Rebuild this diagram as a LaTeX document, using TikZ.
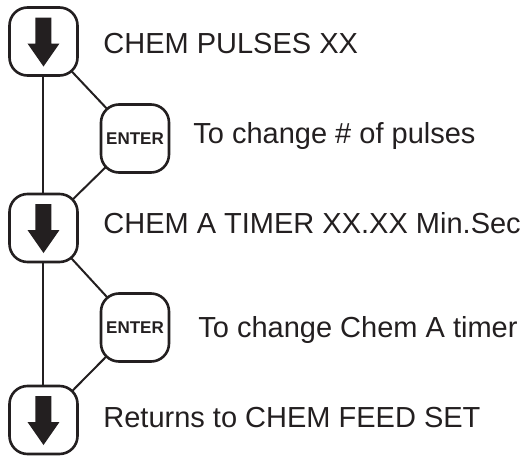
\documentclass[tikz,border=0pt]{standalone}
\usepackage{fontspec}
\setmainfont{Liberation Sans}
\usepackage{tikz}
\usetikzlibrary{
  backgrounds
}
\definecolor{PanelInk}{HTML}{231F20}

\begin{document}
\begin{tikzpicture}[
    x=0.5pt, y=-0.5pt,
    every node/.style={text=PanelInk},
    keybox/.style={draw=PanelInk,line width=1.3pt,rounded corners=9pt,
      fill=white,minimum size=34pt,inner sep=0pt},
    flowline/.style={draw=PanelInk,line width=1pt},
    menutext/.style={anchor=base west,inner sep=0pt,
      font=\fontsize{14.5}{17}\selectfont},
    entertext/.style={font=\fontsize{8.5}{10}\selectfont\bfseries}
  ]
    \useasboundingbox (0,0) rectangle (527,456);
    % scroll keys down the left side
    \node[keybox] (down1) at (43.5,41.5) {};
    \node[keybox] (down2) at (43.5,228) {};
    \node[keybox] (down3) at (43.5,420) {};
    % enter keys
    \node[keybox,entertext] (enter1) at (135,138.5) {ENTER};
    \node[keybox,entertext] (enter2) at (135,327.5) {ENTER};
    % arrow glyph in each scroll key
    \foreach \k in {down1,down2,down3}{
      \fill[PanelInk,shift={(\k.center)}]
        (-8,-24) -- (8,-24) -- (8,2) -- (16,2) -- (0,25) -- (-16,2) -- (-8,2) -- cycle;
    }
    % connectors behind the keys
    \begin{scope}[on background layer]
      \draw[flowline] (down1.center) -- (down2.center) -- (down3.center);
      \draw[flowline] (down1.center) -- (enter1.center) -- (down2.center);
      \draw[flowline] (down2.center) -- (enter2.center) -- (down3.center);
    \end{scope}
    % menu texts
    \node[menutext] (pulses) at (103,53) {CHEM PULSES XX};
    \node[menutext] (pulsesedit) at (193,143) {To change \# of pulses};
    \node[menutext] (timer) at (103,233) {CHEM A TIMER XX.XX Min.Sec};
    \node[menutext] (timeredit) at (198,337) {To change Chem A timer};
    \node[menutext] (back) at (103,427) {Returns to CHEM FEED SET};
  \end{tikzpicture}
\end{document}
